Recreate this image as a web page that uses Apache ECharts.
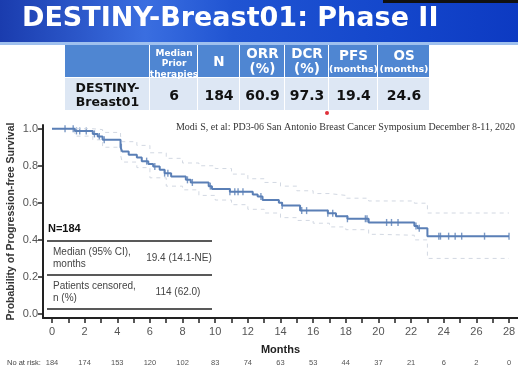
<!DOCTYPE html>
<html><head><meta charset="utf-8">
<script src="https://cdn.jsdelivr.net/npm/echarts@6/dist/echarts.min.js"></script>
<style>html,body{margin:0;padding:0;background:#fff}#c{width:518px;height:372px}</style>
</head><body><div id="c"></div>
<script>
// ---- data ----
const titleText = 'DESTINY-Breast01: Phase II';
const tableHeaders = ['', 'Median\nPrior\ntherapies', 'N', 'ORR\n(%)', 'DCR\n(%)', 'PFS', 'OS'];
const tableValues = ['DESTINY-\nBreast01', '6', '184', '60.9', '97.3', '19.4', '24.6'];
const citation = 'Modi S, et al: PD3-06 San Antonio Breast Cancer Symposium December 8-11, 2020';

const kmTime = [0, 1.4, 2.5, 2.8, 3.1, 4.2, 4.3, 4.7, 5.2, 5.5, 5.9, 6.2, 6.6, 6.9, 7.3, 8.2, 8.5, 9.6, 9.8, 10.9, 12.3, 12.6, 12.9, 13.9, 14.1, 15.2, 16.9, 17.4, 18.1, 19.4, 22.2, 22.4, 23.0, 28.0];
const kmSurv = [1.0, 0.988, 0.972, 0.958, 0.94, 0.9, 0.877, 0.86, 0.845, 0.825, 0.81, 0.796, 0.778, 0.76, 0.742, 0.724, 0.71, 0.69, 0.674, 0.66, 0.645, 0.634, 0.615, 0.6, 0.585, 0.558, 0.544, 0.528, 0.514, 0.494, 0.475, 0.463, 0.42, 0.42];

const ciUpperTime = [0, 1.4, 2.5, 3.1, 4.2, 4.3, 5.2, 6, 7, 8, 9, 10, 11, 12, 13, 14, 15, 16, 17, 18, 19.4, 22.2, 23, 28];
const ciUpper = [1.0, 1.0, 0.995, 0.98, 0.96, 0.93, 0.91, 0.87, 0.84, 0.815, 0.8, 0.785, 0.755, 0.73, 0.71, 0.69, 0.665, 0.65, 0.64, 0.625, 0.61, 0.598, 0.545, 0.545];
const ciLowerTime = [0, 1.4, 2.5, 3.1, 4.2, 4.3, 5.2, 6, 7, 8, 9, 10, 11, 12, 13, 14, 15, 16, 17, 18, 19.4, 20, 22.2, 23, 28];
const ciLower = [1.0, 0.96, 0.94, 0.9, 0.86, 0.82, 0.79, 0.735, 0.69, 0.67, 0.64, 0.615, 0.59, 0.565, 0.545, 0.52, 0.505, 0.49, 0.47, 0.455, 0.43, 0.425, 0.4, 0.3, 0.3];

const censorTimes = [0.8, 1.3, 1.5, 1.7, 2.1, 2.6, 2.9, 3.2, 4.25, 5.8, 6.3, 6.9, 7.1, 8.3, 8.6, 9.7, 10.9, 11.2, 11.4, 11.7, 12.8, 14.1, 15.3, 15.6, 16.9, 17.2, 18.1, 19.2, 19.3, 20.5, 20.8, 21.2, 22.3, 22.5, 23.7, 23.8, 24.3, 24.7, 25.1, 26.5, 28.0];

const xTicks = [0,1,2,3,4,5,6,7,8,9,10,11,12,13,14,15,16,17,18,19,20,21,22,23,24,25,26,27,28];
const xLabels = [0,2,4,6,8,10,12,14,16,18,20,22,24,26,28];
const yLabels = [0, 0.2, 0.4, 0.6, 0.8, 1.0];
const riskTimes = [0,2,4,6,8,10,12,14,16,18,20,22,24,26,28];
const riskCounts = [184,174,153,120,102,83,74,63,53,44,37,21,6,2,0];

const insetN = 'N=184';
const insetRows = [['Median (95% CI),\nmonths', '19.4 (14.1-NE)'], ['Patients censored,\nn (%)', '114 (62.0)']];

// ---- helpers ----
function survAt(t) {
  let s = kmSurv[0];
  for (let i = 0; i < kmTime.length; i++) { if (kmTime[i] <= t) s = kmSurv[i]; }
  return s;
}
const pair = (ts, vs) => ts.map((t, i) => [t, vs[i]]);

const chart = echarts.init(document.getElementById('c'), null, {renderer: 'canvas'});
const blue = '#5a7fb6';
const graphics = [];

// title bar
graphics.push({type: 'rect', shape: {x: 0, y: 0, width: 518, height: 42}, silent: true,
  style: {fill: new echarts.graphic.LinearGradient(0, 0, 1, 0, [
    {offset: 0, color: '#1a3cae'}, {offset: 0.28, color: '#3a6ee0'}, {offset: 0.45, color: '#2054d2'},
    {offset: 0.75, color: '#1447cc'}, {offset: 1, color: '#0d3ac2'}])}});
graphics.push({type: 'rect', shape: {x: 0, y: 42, width: 518, height: 3}, silent: true, style: {fill: '#9fc0ee'}});
graphics.push({type: 'rect', shape: {x: 383, y: 0, width: 135, height: 3}, silent: true, style: {fill: '#111'}});
graphics.push({type: 'text', x: 22, y: 19, silent: true, style: {text: titleText, fill: '#fff',
  font: 'bold 27px "DejaVu Sans"', verticalAlign: 'middle', textAlign: 'left'}});

// top table
const colX = [65, 150, 198, 240, 285, 329, 378, 430];
const hTop = 45, hBot = 78, dBot = 110;
for (let i = 0; i < 7; i++) {
  const x0 = colX[i], w = colX[i + 1] - colX[i];
  graphics.push({type: 'rect', silent: true, shape: {x: x0, y: hTop, width: w - 1, height: hBot - hTop - 1}, style: {fill: '#4f86d2'}});
  graphics.push({type: 'rect', silent: true, shape: {x: x0, y: hBot, width: w - 1, height: dBot - hBot}, style: {fill: '#dde7f4'}});
  const cx = x0 + w / 2;
  let hStyle;
  if (i === 1) {
    hStyle = {text: tableHeaders[i], font: 'bold 9px "DejaVu Sans"', lineHeight: 10.5};
  } else if (i === 5 || i === 6) {
    hStyle = {text: '{a|' + tableHeaders[i] + '}\n{b|(months)}', rich: {
      a: {font: 'bold 13.5px "DejaVu Sans"', fill: '#fff', lineHeight: 15, align: 'center'},
      b: {font: 'bold 9.5px "DejaVu Sans"', fill: '#fff', lineHeight: 12, align: 'center'}}};
  } else if (i === 2) {
    hStyle = {text: tableHeaders[i], font: 'bold 13.5px "DejaVu Sans"'};
  } else {
    hStyle = {text: tableHeaders[i], font: 'bold 13.5px "DejaVu Sans"', lineHeight: 15};
  }
  graphics.push({type: 'text', silent: true, x: cx, y: i === 1 ? 64 : 62,
    style: Object.assign({fill: '#fff', textAlign: 'center', verticalAlign: 'middle'}, hStyle)});
  graphics.push({type: 'text', silent: true, x: cx, y: 96, style: {text: tableValues[i], fill: '#111',
    font: (i === 0 ? 'bold 12.5px' : 'bold 14px') + ' "DejaVu Sans"', lineHeight: 14, textAlign: 'center', verticalAlign: 'middle'}});
}
graphics.push({type: 'circle', silent: true, shape: {cx: 327, cy: 113, r: 2}, style: {fill: '#e0303a'}});

// citation
graphics.push({type: 'text', silent: true, x: 515, y: 127, style: {text: citation, fill: '#333',
  font: '10px "Liberation Serif"', textAlign: 'right', verticalAlign: 'middle'}});

// inset table
graphics.push({type: 'text', silent: true, x: 48, y: 229, style: {text: insetN, fill: '#111', font: 'bold 11px "Liberation Sans"', verticalAlign: 'middle'}});
[241, 275, 309].forEach(y => graphics.push({type: 'line', silent: true, shape: {x1: 47, y1: y, x2: 212, y2: y}, style: {stroke: '#222', lineWidth: 1.6}}));
insetRows.forEach((r, i) => {
  const yc = 258 + i * 34;
  graphics.push({type: 'text', silent: true, x: 53, y: yc, style: {text: r[0], fill: '#444', font: '10px "Liberation Sans"', lineHeight: 12.5, verticalAlign: 'middle'}});
  graphics.push({type: 'text', silent: true, x: i === 0 ? 179 : 178, y: yc, style: {text: r[1], fill: '#444', font: '10px "Liberation Sans"', textAlign: 'center', verticalAlign: 'middle'}});
});

// number at risk caption
graphics.push({type: 'text', silent: true, x: 7, y: 363, style: {text: 'No at risk:', fill: '#444', font: '7.5px "Liberation Sans"', verticalAlign: 'middle'}});

const axisCommon = {type: 'value', min: -0.55, max: 28.55, splitLine: {show: false}};

chart.setOption({
  animation: false,
  backgroundColor: '#fff',
  grid: {left: 43, right: 0, top: 125, bottom: 54, containLabel: false, outerBoundsMode: 'none'},
  xAxis: [
    Object.assign({}, axisCommon, {
      position: 'bottom',
      axisLine: {show: true, onZero: false, lineStyle: {color: '#222', width: 2}},
      axisTick: {show: true, customValues: xTicks, length: 5, lineStyle: {color: '#222', width: 1.5}},
      axisLabel: {customValues: xLabels, color: '#555', fontSize: 11, fontFamily: 'Liberation Sans', margin: 8},
      name: 'Months', nameLocation: 'middle', nameGap: 26, nameMoveOverlap: false,
      nameTextStyle: {fontWeight: 'bold', fontSize: 11, color: '#222', fontFamily: 'Liberation Sans'}
    }),
    Object.assign({}, axisCommon, {
      position: 'bottom',
      axisLine: {show: false}, axisTick: {show: false},
      axisLabel: {customValues: riskTimes, margin: 41, color: '#555', fontSize: 7.5, fontFamily: 'Liberation Sans',
        formatter: v => String(riskCounts[riskTimes.indexOf(Math.round(v))])}
    })
  ],
  yAxis: {
    type: 'value', min: -0.0216, max: 1.02, splitLine: {show: false},
    axisLine: {show: true, onZero: false, lineStyle: {color: '#222', width: 2}},
    axisTick: {show: true, customValues: yLabels, length: 5, lineStyle: {color: '#222', width: 1.5}},
    axisLabel: {customValues: yLabels, formatter: v => v.toFixed(1), color: '#555', fontSize: 11, fontFamily: 'Liberation Sans', margin: 5},
    name: 'Probability of Progression-free Survival', nameLocation: 'middle', nameGap: 26, nameRotate: 90, nameMoveOverlap: false,
    nameTextStyle: {fontWeight: 'bold', fontSize: 10.5, color: '#333', fontFamily: 'Liberation Sans'}
  },
  series: [
    {type: 'line', step: 'end', data: pair(ciUpperTime, ciUpper), symbol: 'none', silent: true,
     lineStyle: {color: '#d2d8e2', width: 1, type: [4, 4]}},
    {type: 'line', step: 'end', data: pair(ciLowerTime, ciLower), symbol: 'none', silent: true,
     lineStyle: {color: '#d2d8e2', width: 1, type: [4, 4]}},
    {type: 'line', step: 'end', data: pair(kmTime, kmSurv), symbol: 'none', silent: true,
     lineStyle: {color: blue, width: 2}},
    {type: 'scatter', data: censorTimes.map(t => [t, survAt(t)]), symbol: 'rect', symbolSize: [1.4, 7], silent: true,
     itemStyle: {color: blue}}
  ],
  graphic: graphics
});
</script>
</body></html>
